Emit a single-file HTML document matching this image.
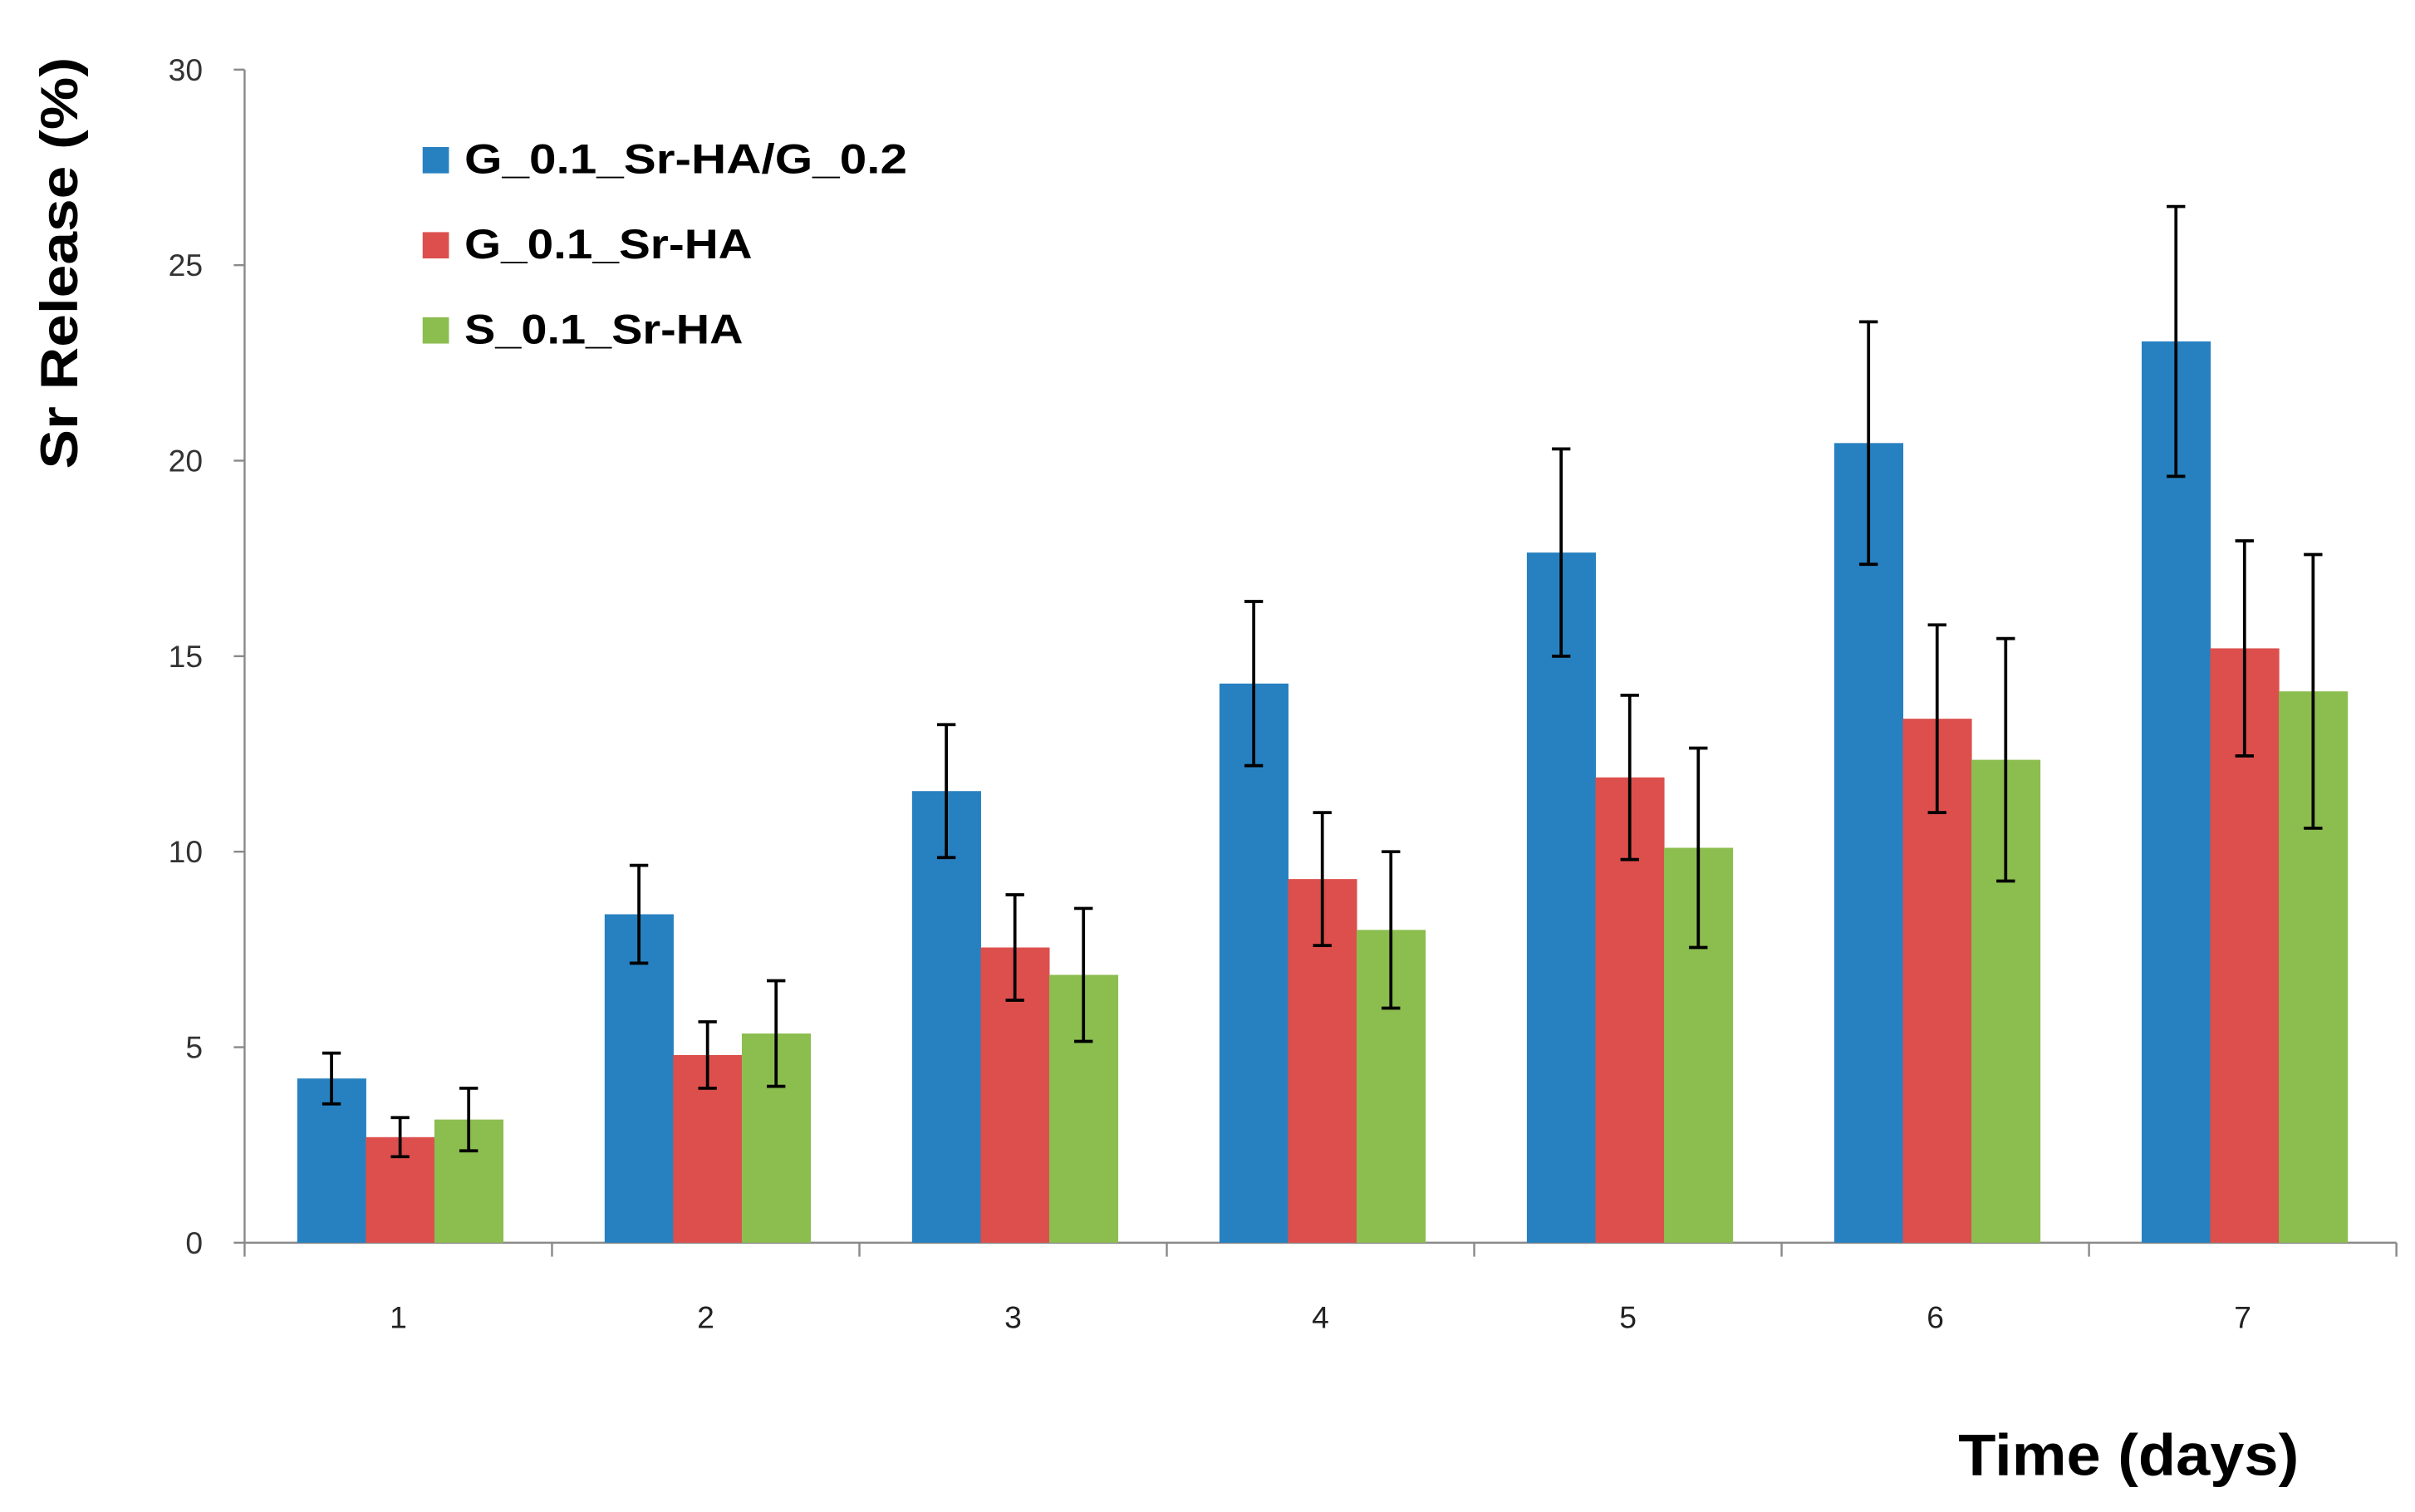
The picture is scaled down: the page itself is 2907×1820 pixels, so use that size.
<!DOCTYPE html>
<html><head><meta charset="utf-8"><style>
html,body{margin:0;padding:0;background:#fff;}
svg{display:block;}
text{font-family:"Liberation Sans",sans-serif;}
</style></head><body>
<svg id="chart" width="2907" height="1820" viewBox="0 0 1560 977" preserveAspectRatio="none" xmlns="http://www.w3.org/2000/svg">
<rect x="0" y="0" width="1560" height="977" fill="#fff"/>
<g id="axes"></g>
<g id="bars"></g>
<g id="errs"></g>
<g>
 <rect x="273" y="95" width="17" height="17" fill="#2781c0"/>
 <text x="300" y="112" font-size="27" font-weight="bold" textLength="286" lengthAdjust="spacingAndGlyphs">G_0.1_Sr-HA/G_0.2</text>
 <rect x="273" y="150" width="17" height="17" fill="#dc4f4d"/>
 <text x="300" y="167" font-size="27" font-weight="bold" textLength="186" lengthAdjust="spacingAndGlyphs">G_0.1_Sr-HA</text>
 <rect x="273" y="205" width="17" height="17" fill="#8cbd4f"/>
 <text x="300" y="222" font-size="27" font-weight="bold" textLength="180" lengthAdjust="spacingAndGlyphs">S_0.1_Sr-HA</text>
</g>
<text transform="translate(50,170) rotate(-90)" text-anchor="middle" font-size="34" font-weight="bold" textLength="266" lengthAdjust="spacingAndGlyphs">Sr Release (%)</text>
<text x="1375" y="953" text-anchor="middle" font-size="38" font-weight="bold" textLength="220" lengthAdjust="spacingAndGlyphs">Time (days)</text>
</svg>
<script>
const categories = ["1","2","3","4","5","6","7"];
const blueVals = [4.2, 8.4, 11.55, 14.3, 17.65, 20.45, 23.05];
const blueErr = [0.65, 1.25, 1.7, 2.1, 2.65, 3.1, 3.45];
const redVals = [2.7, 4.8, 7.55, 9.3, 11.9, 13.4, 15.2];
const redErr = [0.5, 0.85, 1.35, 1.7, 2.1, 2.4, 2.75];
const greenVals = [3.15, 5.35, 6.85, 8.0, 10.1, 12.35, 14.1];
const greenErr = [0.8, 1.35, 1.7, 2.0, 2.55, 3.1, 3.5];
const yTicks = [0, 5, 10, 15, 20, 25, 30];

const NS = "http://www.w3.org/2000/svg";
const X0 = 158, X1 = 1548, Y0 = 803, YT = 45, YMAX = 30;
const catW = (X1 - X0) / categories.length;
const barW = 44.3, groupOff = 34;
function yScale(v){ return Y0 - (v / YMAX) * (Y0 - YT); }
function xCat(i){ return X0 + i * catW; }
function mk(tag, attrs, parent){
  const e = document.createElementNS(NS, tag);
  for (const k in attrs) e.setAttribute(k, attrs[k]);
  parent.appendChild(e);
  return e;
}
const axes = document.getElementById('axes');
const bars = document.getElementById('bars');
const errs = document.getElementById('errs');

let ax = mk('line', {x1:X0, y1:YT, x2:X0, y2:Y0, stroke:'#8a8a8a', 'stroke-width':1.3}, axes);


yTicks.forEach(t => {
  const y = yScale(t);
  const tk = mk('line', {x1:X0-7, y1:y, x2:X0, y2:y, stroke:'#8a8a8a', 'stroke-width':1.3}, axes);
  
  
  const lb = mk('text', {x:131, y:y+7, 'text-anchor':'end', 'font-size':20, fill:'#333'}, axes);
  lb.textContent = t;
  
  
});
let xa = mk('line', {x1:X0, y1:Y0, x2:X1, y2:Y0, stroke:'#8a8a8a', 'stroke-width':1.3}, axes);


for (let i = 0; i <= categories.length; i++) {
  const tk = mk('line', {x1:xCat(i), y1:Y0, x2:xCat(i), y2:Y0+9, stroke:'#8a8a8a', 'stroke-width':1.3}, axes);
  
  
}
categories.forEach((c, i) => {
  const lb = mk('text', {x:xCat(i)+catW/2, y:858, 'text-anchor':'middle', 'font-size':20, fill:'#222'}, axes);
  lb.textContent = c;
  
  
});

const series = [
  {name:'blue', vals:blueVals, err:blueErr, color:'#2781c0'},
  {name:'red', vals:redVals, err:redErr, color:'#dc4f4d'},
  {name:'green', vals:greenVals, err:greenErr, color:'#8cbd4f'}
];
series.forEach((s, si) => {
  s.vals.forEach((v, i) => {
    const x = xCat(i) + groupOff + si * barW;
    const b = mk('rect', {x:x, y:yScale(v), width:barW+0.3, height:Y0 - yScale(v), fill:s.color}, bars);
    
    
    const cx = x + barW/2, yt = yScale(v + s.err[i]), yb = yScale(v - s.err[i]);
    const g = mk('g', {stroke:'#000', 'stroke-width':2}, errs);
    
    
    mk('line', {x1:cx, y1:yt, x2:cx, y2:yb}, g);
    mk('line', {x1:cx-6, y1:yt, x2:cx+6, y2:yt}, g);
    mk('line', {x1:cx-6, y1:yb, x2:cx+6, y2:yb}, g);
  });
});
</script>
</body></html>
